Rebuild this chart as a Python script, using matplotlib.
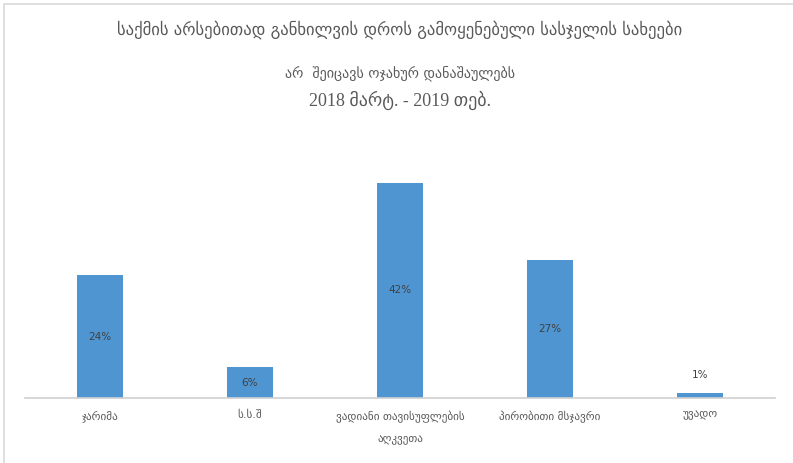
import matplotlib.pyplot as plt
from matplotlib.patches import Rectangle

plt.rcParams['font.family'] = ['DejaVu Sans']

categories = ['ჯარიმა', 'ს.ს.შ', 'ვადიანი თავისუფლების\nაღკვეთა', 'პირობითი მსჯავრი', 'უვადო']
shares = [24, 6, 42, 27, 1]
inside = [True, True, True, True, False]

title = 'საქმის არსებითად განხილვის დროს გამოყენებული სასჯელის სახეები'
subtitle1 = 'არ  შეიცავს ოჯახურ დანაშაულებს'
subtitle2 = '2018 მარტ. - 2019 თებ.'

W, H = 793, 463
fig = plt.figure(figsize=(W / 100, H / 100), dpi=100)
fig.patch.set_facecolor('white')

# light frame round the chart area
fig.add_artist(Rectangle((3.5 / W, -0.01), (W - 2) / W, (H - 3.5) / H + 0.01,
                         transform=fig.transFigure, fill=False,
                         edgecolor='#d9d9d9', linewidth=1.2))

ymax = 45
base_px, top42_px = 398, 183
ax_top_px = base_px - (base_px - top42_px) * ymax / 42
ax = fig.add_axes([25 / W, 1 - base_px / H, 750 / W, (base_px - ax_top_px) / H])

x = range(len(categories))
bars = ax.bar(x, shares, width=0.31, color='#4f95d2')
ax.set_xlim(-0.5, len(categories) - 0.5)
ax.set_ylim(0, ymax)

for i, (b, v) in enumerate(zip(bars, shares)):
    if inside[i]:
        ax.text(b.get_x() + b.get_width() / 2, v / 2, f'{v}%', ha='center', va='center',
                fontsize=7.5, color='#404040')
    else:
        ax.text(b.get_x() + b.get_width() / 2, v + 2.6, f'{v}%', ha='center', va='bottom',
                fontsize=7.5, color='#404040')

for s in ['top', 'right', 'left']:
    ax.spines[s].set_visible(False)
ax.spines['bottom'].set_color('#d0d0d0')
ax.spines['bottom'].set_linewidth(1.2)
ax.set_yticks([])
ax.set_xticks(list(x))
ax.set_xticklabels(categories, fontsize=8, color='#595959', linespacing=2.4, va='top')
ax.tick_params(axis='x', length=0, pad=9)

fig.text(400 / W, 1 - 30 / H, title, ha='center', va='center', fontsize=12, color='#595959')
fig.text(400 / W, 1 - 73 / H, subtitle1, ha='center', va='center', fontsize=10.2, color='#595959')
fig.text(400 / W, 1 - 100 / H, subtitle2, ha='center', va='center', fontsize=13,
         color='#595959', family=['Liberation Serif', 'DejaVu Sans'])

fig.savefig('out.png', dpi=100, facecolor='white')
